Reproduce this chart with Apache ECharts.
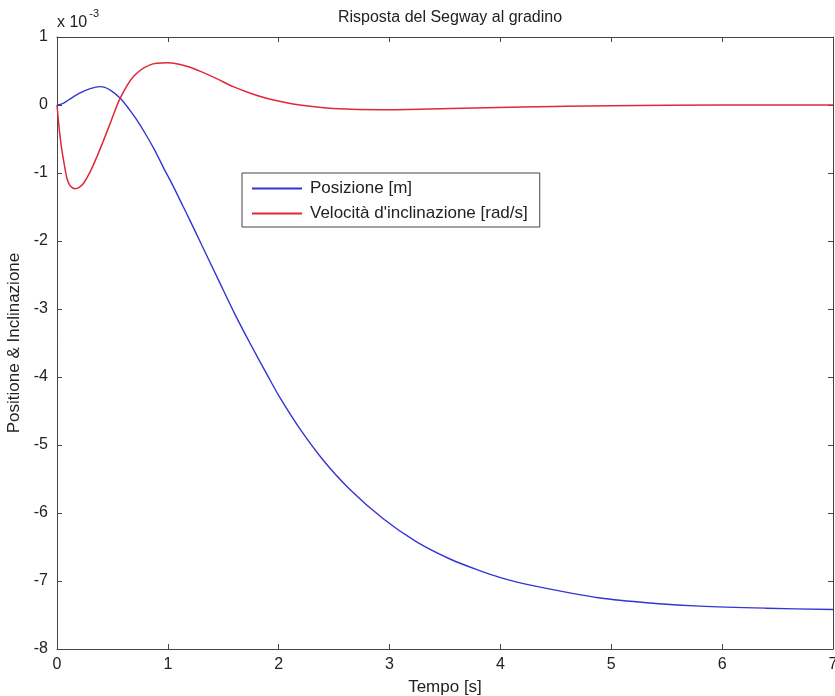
<!DOCTYPE html>
<html>
<head>
<meta charset="utf-8">
<script src="https://cdn.jsdelivr.net/npm/echarts@6/dist/echarts.min.js"></script>
<style>html,body{margin:0;padding:0;background:#fff;}#c{width:835px;height:696px;}</style>
</head>
<body>
<div id="c"></div>
<script>
const posT = [0, 0.05, 0.1, 0.2, 0.3, 0.39, 0.48, 0.57, 0.65, 0.72, 0.8, 0.88, 0.96, 1.05, 1.14, 1.2, 1.3, 1.47, 1.6, 1.74, 1.9, 2.01, 2.19, 2.4, 2.64, 2.94, 3.24, 3.55, 3.8, 4.0, 4.27, 4.9, 5.4, 5.8, 6.4, 7];
const posV = [0, 0.02, 0.07, 0.17, 0.24, 0.27, 0.22, 0.10, -0.06, -0.22, -0.43, -0.66, -0.92, -1.2, -1.50, -1.70, -2.04, -2.62, -3.06, -3.50, -3.98, -4.30, -4.76, -5.22, -5.65, -6.08, -6.42, -6.68, -6.84, -6.95, -7.06, -7.25, -7.33, -7.37, -7.40, -7.42];
const velT = [0, 0.02, 0.04, 0.06, 0.09, 0.12, 0.165, 0.2, 0.24, 0.3, 0.36, 0.42, 0.48, 0.57, 0.69, 0.84, 0.99, 1.1, 1.2, 1.3, 1.45, 1.59, 1.75, 1.89, 2.05, 2.19, 2.49, 2.94, 3.55, 4.2, 5.0, 6.0, 7];
const velV = [0, -0.35, -0.62, -0.82, -1.08, -1.19, -1.23, -1.21, -1.15, -0.98, -0.76, -0.52, -0.27, 0.10, 0.42, 0.59, 0.62, 0.60, 0.555, 0.49, 0.38, 0.27, 0.17, 0.10, 0.04, 0.0, -0.05, -0.07, -0.05, -0.03, -0.01, 0, 0];
const seriesNames = ['Posizione [m]', "Velocità d'inclinazione [rad/s]"];
const titleText = 'Risposta del Segway al gradino';
const xName = 'Tempo [s]';
const yName = 'Positione & Inclinazione';

const zip = (a, b) => a.map((t, i) => [t, b[i]]);
const FONT = 'Liberation Sans, Arial, Helvetica, sans-serif';
const axisColor = '#444';
const chart = echarts.init(document.getElementById('c'));
const baseAxis = {
  axisLine: { show: true, onZero: false, lineStyle: { color: axisColor, width: 1 } },
  axisTick: { show: true, inside: true, length: 5, lineStyle: { color: axisColor } },
  splitLine: { show: false },
};
chart.setOption({
  animation: false,
  backgroundColor: '#fff',
  title: {
    text: titleText, left: 445, top: 5, textAlign: 'center',
    textStyle: { fontFamily: FONT, fontSize: 16, fontWeight: 'normal', color: '#222' }
  },
  graphic: [{
    type: 'text', left: 57, top: 8,
    style: {
      text: '{a|x 10}{b|-3}',
      rich: {
        a: { fontFamily: FONT, fontSize: 16, fill: '#222', verticalAlign: 'bottom', padding: [7, 0, 0, 0] },
        b: { fontFamily: FONT, fontSize: 11, fill: '#222', verticalAlign: 'top', padding: [0, 0, 7, 2] }
      }
    }
  }],
  legend: {
    orient: 'vertical', left: 242, top: 173,
    itemWidth: 50, itemHeight: 14, itemGap: 8,
    padding: [7, 12, 5, 9],
    borderColor: '#444', borderWidth: 1, backgroundColor: '#fff',
    itemStyle: { opacity: 0 },
    textStyle: { fontFamily: FONT, fontSize: 17, color: '#222', padding: [0, 0, 0, 3] },
    data: seriesNames
  },
  grid: { left: 57, right: 2, top: 37, bottom: 47, containLabel: false, outerBoundsMode: 'none' },
  xAxis: [
    Object.assign({}, baseAxis, {
      type: 'value', min: 0, max: 7, interval: 1, position: 'bottom',
      name: xName, nameLocation: 'middle', nameGap: 30,
      nameTextStyle: { fontFamily: FONT, fontSize: 17, color: '#222' },
      axisLabel: { fontFamily: FONT, fontSize: 16, color: '#222', margin: 8 }
    }),
    Object.assign({}, baseAxis, {
      type: 'value', min: 0, max: 7, interval: 1, position: 'top',
      axisLabel: { show: false }
    })
  ],
  yAxis: [
    Object.assign({}, baseAxis, {
      type: 'value', min: -8, max: 1, interval: 1, position: 'left',
      name: yName, nameLocation: 'middle', nameGap: 21, nameRotate: 90,
      nameTextStyle: { fontFamily: FONT, fontSize: 17, color: '#222' },
      axisLabel: { fontFamily: FONT, fontSize: 16, color: '#222', margin: 9 }
    }),
    Object.assign({}, baseAxis, {
      type: 'value', min: -8, max: 1, interval: 1, position: 'right',
      axisLabel: { show: false }
    })
  ],
  series: [
    {
      name: seriesNames[0], type: 'line', data: zip(posT, posV),
      symbol: 'none', smooth: 0.3, color: '#3535d0',
      lineStyle: { width: 1.4, color: '#3535d0' }
    },
    {
      name: seriesNames[1], type: 'line', data: zip(velT, velV),
      symbol: 'none', smooth: 0.3, color: '#e02838',
      lineStyle: { width: 1.5, color: '#e02838' }
    }
  ]
});
</script>
</body>
</html>
